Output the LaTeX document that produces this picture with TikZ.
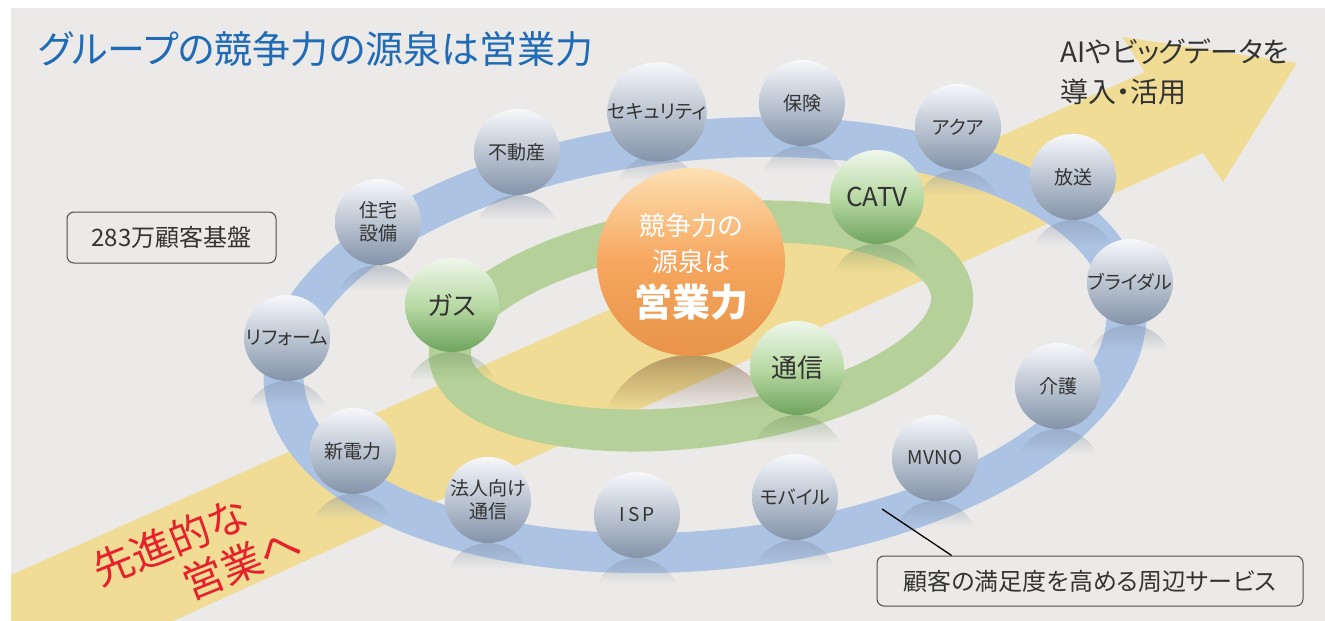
\documentclass[tikz,border=0pt]{standalone}
\usepackage{fontspec}
\newfontfamily\jp{Noto Sans CJK JP}[RawFeature=+palt]
\usetikzlibrary{fadings,calc}
\definecolor{bg}{HTML}{ECEAE8}
\definecolor{ringblue}{HTML}{ADC3E3}
\definecolor{ringgreen}{HTML}{B5D199}
\definecolor{arrowyel}{HTML}{F0DC94}
\definecolor{titleblue}{HTML}{1F6BB5}
\definecolor{txt}{HTML}{333333}
\definecolor{redtxt}{HTML}{E6212B}
\definecolor{gtop}{HTML}{F7F8FB}
\definecolor{gmid}{HTML}{BCC5D2}
\definecolor{gbot}{HTML}{8393A9}
\definecolor{grtop}{HTML}{EFF7EB}
\definecolor{grmid}{HTML}{B9DAA5}
\definecolor{grbot}{HTML}{6FA45E}
\definecolor{otop}{HTML}{FDE0B2}
\definecolor{omid}{HTML}{F6A65E}
\definecolor{obot}{HTML}{E8944A}
\newcommand\fsz[2]{\fontsize{#1}{#2}\selectfont}
% reflection cap under a sphere: cx, cy, r, colour
\newcommand\reflcap[4]{%
  \fill[#4, fill opacity=0.55, path fading=south]
    ([shift={(#1,{#2+2*#3})}]24:#3pt) arc[start angle=24, end angle=156, radius=#3pt] -- cycle;}
\begin{document}
\begin{tikzpicture}[x=1pt,y=-1pt,
  gsph/.style={circle, minimum size=86pt, inner sep=0pt, top color=gtop, bottom color=gbot, middle color=gmid,
    text=txt, align=center, font=\jp\fsz{19}{23}},
  grsph/.style={circle, minimum size=94pt, inner sep=0pt, top color=grtop, bottom color=grbot, middle color=grmid,
    text=txt, align=center, font=\jp\fsz{26}{30}},
  osph/.style={circle, minimum size=188pt, inner sep=0pt, top color=otop, bottom color=obot, middle color=omid},
  ctext/.style={text=white, inner sep=0pt, font=\jp\fsz{26}{30}},
  infobox/.style={draw=black!70, line width=1pt, rounded corners=7pt, fill=bg, text=txt, inner sep=0pt,
    font=\jp\fsz{24}{28}},
]
\useasboundingbox (0,0) rectangle (1325,621);
\fill[white] (0,0) rectangle (1325,621);
\fill[bg] (11,8) rectangle (1325,621);

% big arrow
\begin{scope}
\clip (11,8) rectangle (1325,621);
\fill[arrowyel] (11,575) -- (1145,72) -- (1122,37) -- (1297,63) -- (1223,182) -- (1203,153) -- (173,621) -- (11,621) -- cycle;
\end{scope}

% rings
\draw[ringblue, line width=40pt, rotate around={5.5:(705,345)}] (705,345) ellipse [x radius=423pt, y radius=205pt];
\draw[ringgreen, line width=42pt, rotate around={7.5:(701,326)}] (701,326) ellipse [x radius=253pt, y radius=100pt];

% reflections
\foreach \cx/\cy in {378/222, 517/152, 657/112, 802/103, 958/127, 1073/177, 1130/282, 1058/386,
                      935/458, 795/497, 637/515, 488/500, 353/451, 287/338}
  {\reflcap{\cx}{\cy}{43}{gbot}}
\foreach \cx/\cy in {452/305, 877/197, 797/368}
  {\reflcap{\cx}{\cy}{47}{grbot!70!gray}}
\reflcap{691}{262}{93}{black!45!brown}

% title
\node[anchor=west, text=titleblue, font=\jp\fsz{38}{42}, inner sep=0pt] (title) at (38,49) {グループの競争力の源泉は営業力};

% outer spheres
\node[gsph] (jutaku) at (378,222) {住宅\\設備};
\node[gsph] (fudosan) at (517,152) {不動産};
\node[gsph] (security) at (657,112) {セキュリティ};
\node[gsph] (hoken) at (802,103) {保険};
\node[gsph] (aqua) at (958,127) {アクア};
\node[gsph] (hoso) at (1073,177) {放送};
\node[gsph] (bridal) at (1130,282) {ブライダル};
\node[gsph] (kaigo) at (1058,386) {介護};
\node[gsph] (mvno) at (935,458) {MVNO};
\node[gsph] (mobile) at (795,497) {モバイル};
\node[gsph] (isp) at (637,515) {I\,S\,P};
\node[gsph] (hojin) at (488,500) {法人向け\\通信};
\node[gsph] (shindenryoku) at (353,451) {新電力};
\node[gsph] (reform) at (287,338) {リフォーム};

% inner spheres
\node[grsph] (gas) at (452,305) {ガス};
\node[grsph] (catv) at (877,197) {CATV};
\node[grsph] (tsushin) at (797,368) {通信};

% centre
\node[osph] (core) at (691,262) {};
\node[ctext] (c1) at (691,226) {競争力の};
\node[ctext] (c2) at (691,262) {源泉は};
\node[ctext, font=\jp\bfseries\fsz{38}{42}] (c3) at (691,302) {営業力};

% labels
\node[anchor=west, align=left, text=txt, font=\jp\fsz{28}{40}, inner sep=0pt] (ai) at (1060,72) {AIやビッグデータを\\導入・活用};
\node[infobox, minimum width=209pt, minimum height=51pt] (base) at (171.5,237.5) {283万顧客基盤};
\node[infobox, minimum width=426pt, minimum height=50pt] (svc) at (1090,581) {顧客の満足度を高める周辺サービス};
\coordinate (lp) at (882,509);
\draw[black, line width=1.3pt] (lp) -- ($(svc.north west)!0.176!(svc.north east)$);

% red text
\node[rotate=22, text=redtxt, font=\jp\fsz{41}{46}, inner sep=0pt, align=left] (adv) at (197,556) {先進的な\\\hspace*{78pt}営業へ};
\end{tikzpicture}
\end{document}
